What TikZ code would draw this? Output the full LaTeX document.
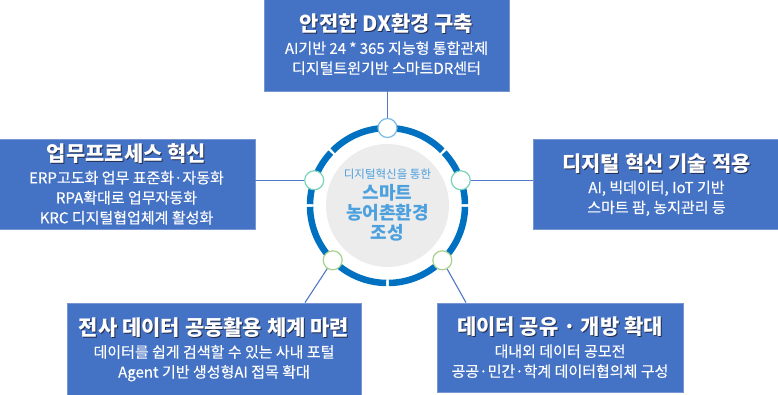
\documentclass[tikz,border=0pt]{standalone}
\usepackage{fontspec}
\setmainfont{Noto Sans CJK KR}
\newfontfamily\subfont[FakeBold=0.3]{Noto Sans CJK KR}

\definecolor{boxblue}{RGB}{68,114,196}
\definecolor{boxedge}{RGB}{120,150,210}
\definecolor{ringblue}{RGB}{0,112,192}
\definecolor{hubgray}{RGB}{236,236,236}
\definecolor{hubtext}{RGB}{77,160,222}
\definecolor{linkblue}{RGB}{80,120,200}
\definecolor{titleshade}{RGB}{35,45,75}
\definecolor{dotblue}{RGB}{125,185,230}
\definecolor{dotaqua}{RGB}{120,210,185}
\definecolor{dotgreen}{RGB}{169,209,142}

\newcommand\shadowed[1]{\makebox[0pt][l]{\kern1pt\raisebox{-1pt}{\color{titleshade}#1}}#1}
\newcommand\goaltitle[1]{{\rmfamily\bfseries\fontsize{21}{21}\selectfont\shadowed{#1}}}

\begin{document}
\begin{tikzpicture}[
  x=1pt, y=1pt,
  goal/.style={draw=boxedge, line width=0.8pt, fill=boxblue, text=white,
              align=center, inner sep=0pt, font=\subfont\fontsize{15}{20}\selectfont},
  hub/.style={circle, fill=hubgray, minimum size=123pt, inner sep=0pt,
              align=center, text=hubtext},
  ring/.style={draw=ringblue, line width=6.5pt},
  dot/.style={circle, draw=#1, line width=1.2pt, fill=white,
              minimum size=19pt, inner sep=0pt},
  link/.style={draw=linkblue, line width=1.1pt},
]

\useasboundingbox (0,0) rectangle (778,394);

\node[goal, minimum width=245pt, minimum height=93pt] (infra) at (386.5,349.5)
  {\goaltitle{안전한 DX환경 구축}\\[2pt]
   AI기반 24 * 365 지능형 통합관제\\
   디지털트윈기반 스마트DR센터};
\node[goal, minimum width=257pt, minimum height=90pt] (process) at (126.5,210)
  {\goaltitle{업무프로세스 혁신}\\[2pt]
   ERP고도화 업무 표준화·자동화\\
   RPA확대로 업무자동화\\
   KRC 디지털협업체계 활성화};
\node[goal, minimum width=247pt, minimum height=90pt] (tech) at (656.5,209.5)
  {\goaltitle{디지털 혁신 기술 적용}\\[2pt]
   AI, 빅데이터, IoT 기반\\
   스마트 팜, 농지관리 등};
\node[goal, minimum width=294pt, minimum height=93pt] (share) at (214,44.5)
  {\goaltitle{전사 데이터 공동활용 체계 마련}\\[2pt]
   데이터를 쉽게 검색할 수 있는 사내 포털\\
   Agent 기반 생성형AI 접목 확대};
\node[goal, minimum width=246pt, minimum height=89pt] (open) at (560,46.5)
  {\goaltitle{데이터 공유 · 개방 확대}\\[2pt]
   대내외 데이터 공모전\\
   공공·민간·학계 데이터협의체 구성};

\node[hub, font=\bfseries\fontsize{18}{20}\selectfont] (hub) at (387.5,188.5)
  {{\mdseries\fontsize{11.5}{14}\selectfont 디지털혁신을 통한}\\[1pt]
   스마트\\농어촌환경\\조성};

\foreach \a/\b in {1/43, 45/135, 137/179, 181/269, 271/359}
  \draw[ring] ([shift={(\a:77.5)}]hub.center) arc[start angle=\a, end angle=\b, radius=77.5];

\node[dot=dotblue] (dtop) at ([shift={(90:77.5)}]hub.center) {};
\node[dot=dotaqua] (dleft) at ([shift={(161:77.5)}]hub.center) {};
\node[dot=dotaqua] (dright) at ([shift={(19:77.5)}]hub.center) {};
\node[dot=dotgreen] (dbl) at ([shift={(225:77.5)}]hub.center) {};
\node[dot=dotgreen] (dbr) at ([shift={(315:77.5)}]hub.center) {};

\draw[link] (dtop) -- (dtop |- infra.south);
\draw[link] (dleft) -- (dleft -| process.east);
\draw[link] (dright) -- (dright -| tech.west);
\draw[link] (dbl) -- ([xshift=91pt]share.north);
\draw[link] (dbr) -- ([xshift=-94pt]open.north);

\end{tikzpicture}
\end{document}
